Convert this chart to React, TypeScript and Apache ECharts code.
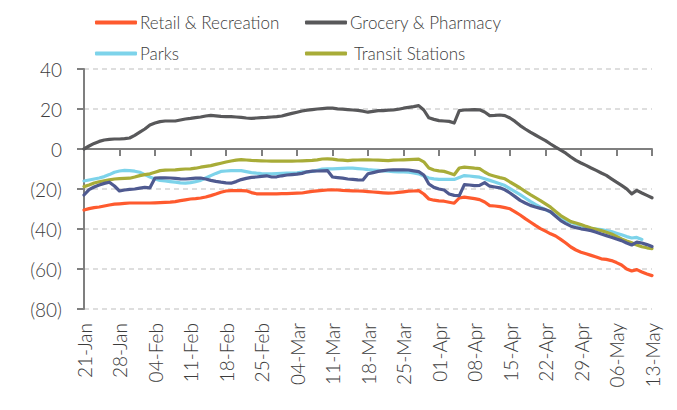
import React, { useEffect, useRef } from "react";
import * as echarts from "echarts";

const tickLabels = [
  "21-Jan", "28-Jan", "04-Feb", "11-Feb", "18-Feb", "25-Feb", "04-Mar", "11-Mar", "18-Mar",
  "25-Mar", "01-Apr", "08-Apr", "15-Apr", "22-Apr", "29-Apr", "06-May", "13-May",
];

const retail = [
  -30.5, -29.8, -29.3, -29, -28.5, -28, -27.6, -27.4, -27.2, -27, -27, -27, -27, -27, -26.9, -26.8,
  -26.7, -26.6, -26.3, -25.8, -25.4, -25, -24.8, -24.5, -24, -23.3, -22.5, -21.6, -21, -20.8, -20.8,
  -20.8, -20.9, -21.8, -22.4, -22.4, -22.4, -22.4, -22.4, -22.3, -22.3, -22.2, -22.1, -22, -21.6,
  -21.2, -20.9, -20.7, -20.5, -20.4, -20.5, -20.7, -20.8, -20.9, -21, -21.1, -21.3, -21.5, -21.7,
  -21.9, -22.1, -22, -21.7, -21.4, -21.1, -21, -20.8, -22.5, -25, -25.6, -25.9, -26.1, -26.6, -27.1,
  -24.5, -24.1, -24.4, -24.8, -25.3, -26.5, -28.3, -28.5, -28.8, -29.3, -29.9, -31.4, -33, -34.8,
  -36.5, -38.2, -39.8, -41.1, -42.4, -43.5, -45.2, -47, -49, -50.5, -51.6, -52.4, -53.2, -54, -54.9,
  -55.2, -55.8, -56.8, -58, -60, -61, -60.3, -61.5, -62.5, -63.3,
];

const grocery = [
  0, 1.5, 2.8, 3.8, 4.5, 4.8, 5, 5, 5.2, 5.5, 6.8, 8.4, 10, 12, 13, 13.7, 14, 14, 14, 14.5, 15, 15.3,
  15.7, 16, 16.5, 16.8, 16.6, 16.3, 16.2, 16.2, 16, 15.8, 15.5, 15.3, 15.5, 15.7, 15.8, 16, 16.2,
  16.5, 17.2, 17.8, 18.4, 19, 19.4, 19.7, 20, 20.2, 20.4, 20.4, 20.1, 19.9, 19.7, 19.5, 19.3, 18.9,
  18.4, 18.8, 19.2, 19.2, 19.4, 19.5, 19.9, 20.4, 20.8, 21.2, 21.7, 19.5, 15.6, 14.8, 14.2, 14, 13.8,
  13, 19.2, 19.5, 19.6, 19.7, 19.6, 18.5, 16.7, 16.8, 17, 16.7, 15.5, 13.8, 11.7, 10, 8.4, 7, 5.6,
  4.2, 2.5, 0.9, -0.6, -2.1, -4, -5.7, -7, -8.2, -9.5, -10.7, -12, -13.2, -14.9, -16.6, -18.2, -19.9,
  -22.4, -20.7, -22, -23.2, -24.4,
];

const parks = [
  -16, -15.5, -15, -14.5, -13.8, -12.8, -11.6, -11, -10.7, -10.8, -11.1, -11.6, -12.8, -14, -15,
  -15.7, -16, -16.3, -16.6, -16.9, -17.1, -16.8, -16.3, -15.7, -14.5, -13.3, -12.2, -11.2, -11,
  -10.8, -10.8, -10.8, -11.3, -11.8, -12.1, -12.3, -12.4, -12.4, -12.3, -12.2, -12.1, -12.1, -11.9,
  -11.6, -11.4, -11.2, -10.6, -10, -9.9, -9.9, -9.8, -9.7, -9.6, -9.6, -9.8, -10, -10.3, -10.5,
  -10.7, -10.9, -11.1, -11.3, -11.4, -11.5, -11.6, -12, -12.4, -13.5, -14.5, -14.9, -15.2, -15.2,
  -15.2, -15.2, -14.2, -13.3, -13.5, -13.8, -14.1, -14.9, -15.7, -16.5, -17.4, -18.3, -19.8, -21.3,
  -22.8, -24.5, -26.2, -27.7, -29.1, -30.3, -31.6, -33.3, -35, -35.9, -36.7, -37.5, -38.3, -39,
  -39.7, -40, -40.3, -40.8, -41.3, -42.1, -42.9, -43.8, -44.5, -44.2, -45.2, null, null,
];

const transit = [
  -18.8, -18, -17, -16.4, -15.9, -15.4, -15, -14.8, -14.7, -14.6, -14, -13.3, -12.8, -12.4, -11.6,
  -10.8, -10.6, -10.5, -10.4, -10.2, -10, -9.9, -9.6, -9.1, -8.7, -8.3, -7.7, -7.1, -6.5, -6, -5.6,
  -5.3, -5.5, -5.7, -5.8, -5.9, -6, -6.1, -6.1, -6.1, -6.1, -6.1, -6, -5.9, -5.8, -5.7, -5.4, -5,
  -4.9, -5.1, -5.4, -5.6, -5.8, -5.6, -5.5, -5.4, -5.4, -5.5, -5.6, -5.7, -5.8, -5.6, -5.5, -5.4,
  -5.3, -5.2, -5.1, -6.4, -9.5, -10.5, -10.9, -11.2, -12, -12.9, -9.5, -9.1, -9.3, -9.6, -9.8, -11.5,
  -12.9, -13.6, -14.3, -14.9, -16.5, -18, -19.5, -21.2, -22.8, -24.3, -25.8, -27.4, -29.1, -31.2,
  -33.3, -34.8, -36.3, -37, -37.8, -38.7, -39.5, -40.1, -40.8, -41.6, -42.5, -43.7, -45, -46, -46.9,
  -48, -48.9, -49.4, -49.8,
];

const workplaces = [
  -23, -20.3, -19, -18, -17.2, -16.6, -18.5, -21, -20.5, -20.2, -20, -19.6, -19.2, -19.4, -14.5,
  -14.4, -14.4, -14.5, -14.7, -14.9, -15, -14.8, -14.6, -14.5, -15, -15.7, -16.2, -16.6, -16.9,
  -17.1, -16.3, -15.3, -14.7, -14.2, -14, -13.7, -13.4, -14, -13.9, -13.4, -13, -12.8, -12.6, -12.2,
  -11.4, -11.1, -11, -10.9, -10.8, -14, -14.3, -14.6, -15, -15.2, -15.4, -15.5, -12.4, -11.8, -11.2,
  -10.8, -10.5, -10.4, -10.4, -10.4, -10.5, -10.9, -11.3, -13, -17.5, -19.2, -20, -20.5, -22.5,
  -23.2, -23.3, -17.8, -18, -18.3, -18.2, -16.8, -18.6, -19, -19.4, -20.4, -22, -23.8, -25.7, -27,
  -28.2, -29, -29.7, -30.3, -31.4, -33.6, -35.8, -37.3, -38.6, -39.3, -39.9, -40.3, -40.8, -41.6,
  -42.5, -43.3, -44.1, -45, -45.8, -47, -48, -46.6, -47, -47.8, -48.8,
];

const seriesNames = ["Retail & Recreation", "Grocery & Pharmacy", "Parks", "Transit Stations", "Workplaces"];
const seriesColors = ["#fe5a2e", "#58585a", "#7dd3ea", "#a8ac38", "#4f5a90"];

const FONT = "Lato";
const TEXT = "#3c3c3c";

export default function App() {
  const ref = useRef<HTMLDivElement>(null);
  useEffect(() => {
    if (!ref.current) return;
    const chart = echarts.init(ref.current, null, { renderer: "svg" });
    const days = retail.map((_, i) => String(i));
    const fmtX = (_v: string, i: number) => (i % 7 === 0 ? tickLabels[i / 7] : "");
    const datasets = [retail, grocery, parks, transit, workplaces];
    const legendPos = [
      { left: 82, top: 1 },
      { left: 292, top: 1 },
      { left: 82, top: 32 },
      { left: 292, top: 32 },
    ];
    chart.setOption({
      animation: false,
      grid: { left: 76, right: 25, top: 61, bottom: 101, containLabel: false },
      legend: legendPos.map((p, i) => ({
        data: [seriesNames[i]],
        left: p.left,
        top: p.top,
        icon: "roundRect",
        itemWidth: 42,
        itemHeight: 4,
        itemGap: 10,
        textStyle: {
          fontFamily: FONT,
          fontWeight: 300,
          fontSize: 17,
          color: TEXT,
          padding: [0, 0, 0, i === 3 ? 2 : -2],
        },
      })),
      xAxis: [
        {
          type: "category",
          data: days,
          boundaryGap: false,
          position: "bottom",
          axisLine: { onZero: true, lineStyle: { color: "#7f7f7f", width: 2 } },
          axisTick: { show: true, interval: 6, length: 7, lineStyle: { color: "#7f7f7f", width: 2 } },
          axisLabel: { show: false },
          splitLine: { show: false },
        },
        {
          type: "category",
          data: days,
          boundaryGap: false,
          position: "bottom",
          axisLine: { show: false, onZero: false },
          axisTick: { show: false },
          axisLabel: {
            interval: 6,
            rotate: 90,
            margin: 14,
            formatter: fmtX,
            fontFamily: FONT,
            fontWeight: 300,
            fontSize: 19,
            color: TEXT,
          },
          splitLine: { show: false },
        },
      ],
      yAxis: {
        type: "value",
        min: -80,
        max: 40,
        interval: 20,
        axisLine: { show: true, lineStyle: { color: "#7f7f7f", width: 2 } },
        axisTick: { show: true, length: 7, lineStyle: { color: "#7f7f7f", width: 2 } },
        axisLabel: {
          margin: 22,
          formatter: (v: number) => (v < 0 ? `(${-v})` : String(v)),
          fontFamily: FONT,
          fontWeight: 300,
          fontSize: 19,
          color: TEXT,
        },
        splitLine: { show: true, lineStyle: { color: "#d4d4d4", width: 1.5, type: [5, 4] } },
      },
      series: datasets.map((d, i) => ({
        name: seriesNames[i],
        type: "line",
        data: d,
        xAxisIndex: 0,
        showSymbol: false,
        symbol: "none",
        connectNulls: false,
        lineStyle: { color: seriesColors[i], width: 3.2, cap: "round", join: "round" },
        itemStyle: { color: seriesColors[i] },
        z: i === 1 ? 3 : 2 + i * 0.1,
      })),
    });
    return () => chart.dispose();
  }, []);
  return <div ref={ref} style={{ width: 669, height: 402 }} />;
}
